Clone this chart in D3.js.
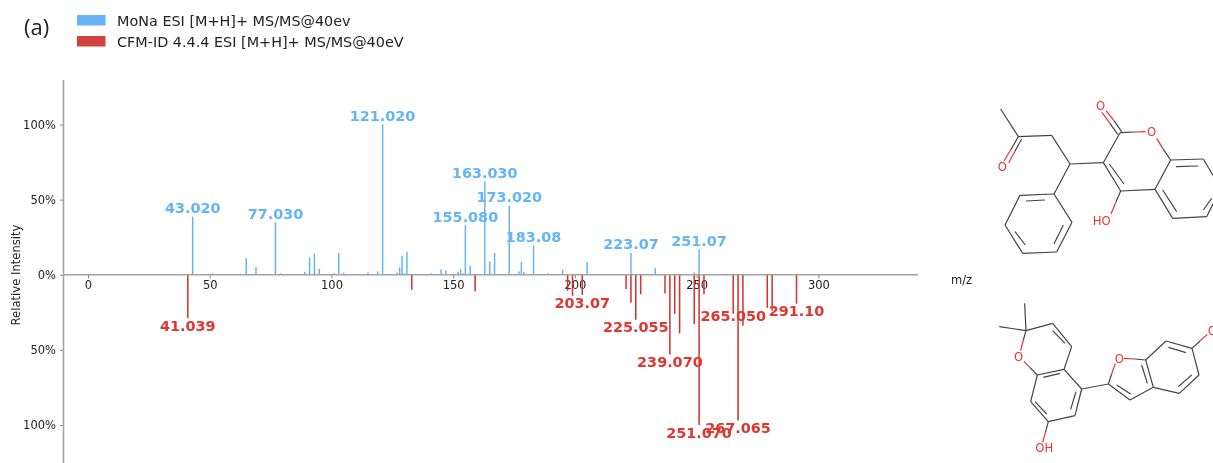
<!DOCTYPE html>
<html>
<head>
<meta charset="utf-8">
<script src="https://cdn.jsdelivr.net/npm/d3@7"></script>
<style>
  html, body { margin:0; padding:0; background:#fff; overflow:hidden; }
  text { font-family:"DejaVu Sans", sans-serif; }
  svg { filter:blur(0.35px); }
</style>
</head>
<body>
<div id="chart"></div>
<script>
// MoNa peaks
var monaMz  = [43,51,65,69,77,79,89,91,93,95,101,103,105,115,119,121,127,128,129,130,131,141,145,147,152,153,154,155,157,163,165,167,173,177,178,179,183,189,195,205,223,233,249,251];
var monaPct = [38.7,1,11,5,35,1,2,11.5,14,4,1,14.5,1.5,1.5,2.2,100,1.5,5,12.5,1,15.3,1,3.5,3,2,3.5,1,33,6,62,9,14.5,46,2.2,8.5,2,19.5,1,3.5,8.5,14.7,4.5,1.5,17];
var monaLabelMz   = [43,77,121,155,163,173,183,223,251];
var monaLabelText = ["43.020","77.030","121.020","155.080","163.030","173.020","183.08","223.07","251.07"];

// CFM-ID peaks
var cfmMz  = [41,133,159,197,199,203,221,223,225,227,237,239,241,243,249,251,253,265,267,269,279,281,291];
var cfmPct = [29,10,11,10.7,14,13.5,9.5,18.7,30,13,12.5,53,26,39,33,100,13,26,97,34,22,24,19.3];
var cfmLabelMz   = [41,203,225,239,251,265,267,291];
var cfmLabelText = ["41.039","203.07","225.055","239.070","251.070","265.050","267.065","291.10"];

var xTicks = [0,50,100,150,200,250,300];
var yTicks = [-100,-50,0,50,100];

var legendNames = ["MoNa ESI [M+H]+ MS/MS@40ev","CFM-ID 4.4.4 ESI [M+H]+ MS/MS@40eV"];
var BLUE = "#64b5f6", RED = "#d32f2f", LABEL_RED = "#e03531";

// molecule bonds, drawn in a 3x space: x1,y1,x2,y2,colour flag
var mol1Bonds = [
  [62,57,115,140],[115,140,92,180],[92,180,72,213,1],[125,147,104,185],[104,185,86,218,1],
  [115,140,215,136],[215,136,270,222],[270,222,222,312],[270,222,370,218],
  [222,312,120,316],[120,316,75,405],[75,405,128,490],[128,490,230,486],[230,486,276,397],[276,397,222,312],
  [195,330,138,333],[105,425,136,465],[222,462,250,405],
  [370,218,420,128],[413,133,390,100],[390,100,365,66,1],[425,125,402,92],[402,92,378,62,1],
  [420,128,465,126],[465,126,497,125,1],[530,145,550,178,1],[550,178,572,210],
  [370,218,422,303],[388,222,432,282],[422,303,525,298],[422,303,408,336],[408,336,393,372,1],
  [525,298,572,210],[572,210,670,207],[670,207,722,295],[722,295,680,380],[680,380,578,385],[578,385,525,298],
  [588,230,655,228],[548,300,590,365],[695,325,670,360]
];
var mol1Atoms = [["O",362,46],["O",67,230],["O",515,125],["HO",365,393]];

var mol2Bonds = [
  [134,40,138,122],[58,110,138,122],[138,122,218,100],[218,100,275,170],[218,122,255,160],[275,170,252,238],
  [138,122,130,150],[130,150,122,182,1],[132,215,150,233,1],[150,233,172,255],
  [172,255,252,238],[190,262,240,250],[252,238,305,297],[305,297,285,377],[288,305,272,358],
  [285,377,205,395],[205,395,152,335],[200,372,165,335],[152,335,172,255],
  [205,395,196,428],[196,428,188,458,1],[305,297,385,282],[385,282,395,252],[395,252,406,220,1],
  [432,205,465,207,1],[465,207,497,210],[385,282,450,330],[410,285,452,312],[450,330,520,292],
  [520,292,497,210],[502,280,485,225],[497,210,558,153],[558,153,636,175],[565,172,618,188],
  [636,175,657,255],[657,255,598,310],[635,255,595,290],[598,310,520,292],[636,175,660,153],[660,153,682,133,1]
];
var mol2Atoms = [["O",116,200],["O",418,205],["OH",193,473],["O",697,122]];

var width = 1213, height = 463;
var svg = d3.select("#chart").append("svg")
  .attr("width", width).attr("height", height)
  .style("display","block");

var x = d3.scaleLinear().domain([0,300]).range([88,818.4]);
var y = d3.scaleLinear().domain([-100,100]).range([425,124.5]);

// y axis
var yAxis = svg.append("g").attr("transform","translate(63.5,0)")
  .call(d3.axisLeft(y).tickValues(yTicks).tickSize(3.5).tickPadding(4)
    .tickFormat(function(d){ return Math.abs(d)+"%"; }));
yAxis.select(".domain").remove();
yAxis.selectAll("line").attr("stroke","#666").attr("stroke-width",0.8);
yAxis.selectAll("text").attr("font-size",11.5).attr("fill","#222").style("font-family","DejaVu Sans");
svg.append("line").attr("x1",63.5).attr("x2",63.5).attr("y1",80).attr("y2",463)
  .attr("stroke","#a3a3a3").attr("stroke-width",1.6);

// x axis ticks and labels sit under the peaks
var xAxis = svg.append("g").attr("transform","translate(0,"+y(0)+")")
  .call(d3.axisBottom(x).tickValues(xTicks).tickSize(3.5).tickPadding(2.5));
xAxis.select(".domain").remove();
xAxis.selectAll("line").attr("stroke","#666").attr("stroke-width",0.8);
xAxis.selectAll("text").attr("font-size",11.5).attr("fill","#222").style("font-family","DejaVu Sans");

// peaks
svg.append("g").selectAll("line").data(d3.zip(monaMz,monaPct)).enter().append("line")
  .attr("x1",function(d){ return x(d[0]); }).attr("x2",function(d){ return x(d[0]); })
  .attr("y1",y(0)).attr("y2",function(d){ return y(d[1]); })
  .attr("stroke",BLUE).attr("stroke-width",1.5);
svg.append("g").selectAll("line").data(d3.zip(cfmMz,cfmPct)).enter().append("line")
  .attr("x1",function(d){ return x(d[0]); }).attr("x2",function(d){ return x(d[0]); })
  .attr("y1",y(0)).attr("y2",function(d){ return y(-d[1]); })
  .attr("stroke",RED).attr("stroke-width",1.5);

svg.append("line").attr("x1",63).attr("x2",918).attr("y1",y(0)).attr("y2",y(0))
  .attr("stroke","#a3a3a3").attr("stroke-width",1.6);

// peak labels
function pctAt(mzs,pcts,mz){ return pcts[mzs.indexOf(mz)]; }
svg.append("g").selectAll("text").data(d3.zip(monaLabelMz,monaLabelText)).enter().append("text")
  .attr("x",function(d){ return x(d[0]); })
  .attr("y",function(d){ return y(pctAt(monaMz,monaPct,d[0]))-3.5; })
  .attr("text-anchor","middle").attr("font-size",14.4).attr("font-weight","bold")
  .attr("fill",BLUE).text(function(d){ return d[1]; });
svg.append("g").selectAll("text").data(d3.zip(cfmLabelMz,cfmLabelText)).enter().append("text")
  .attr("x",function(d){ return x(d[0]); })
  .attr("y",function(d){ return y(-pctAt(cfmMz,cfmPct,d[0])) + (d[0]==265 ? 7.5 : 12.5); }) // 265 sits tight on its peak
  .attr("text-anchor","middle").attr("font-size",14.4).attr("font-weight","bold")
  .attr("fill",LABEL_RED).text(function(d){ return d[1]; });

// axis names
svg.append("text").attr("transform","translate(20,275) rotate(-90)")
  .attr("text-anchor","middle").attr("font-size",11.6).attr("fill","#222").text("Relative Intensity");
svg.append("text").attr("x",951).attr("y",284).attr("font-size",11.5).attr("fill","#222").text("m/z");

// legend
var legend = svg.append("g").selectAll("g").data(legendNames).enter().append("g")
  .attr("transform",function(d,i){ return "translate(77,"+(15+i*21)+")"; });
legend.append("rect").attr("width",28.5).attr("height",10.5)
  .attr("fill",function(d,i){ return i==0 ? "#69b4f6" : "#d2423e"; });
legend.append("text").attr("x",40).attr("y",10.5).attr("font-size",14.4).attr("fill","#222")
  .text(function(d){ return d; });

svg.append("text").attr("x",24).attr("y",35).attr("font-size",22).attr("fill","#222")
  .style("font-family","Open Sans").text("(a)");

// molecules
function drawMol(bonds,atoms,tx,ty){
  var g = svg.append("g").attr("transform","translate("+tx+","+ty+") scale("+(1/3)+")");
  g.selectAll("line").data(bonds).enter().append("line")
    .attr("x1",function(d){ return d[0]; }).attr("y1",function(d){ return d[1]; })
    .attr("x2",function(d){ return d[2]; }).attr("y2",function(d){ return d[3]; })
    .attr("stroke",function(d){ return d[4] ? "#f03030" : "#444"; })
    .attr("stroke-width",3.6);
  g.selectAll("text").data(atoms).enter().append("text")
    .attr("x",function(d){ return d[1]; }).attr("y",function(d){ return d[2]; })
    .attr("dy","0.36em").attr("text-anchor","middle").attr("font-size",35)
    .attr("fill","#f03030").text(function(d){ return d[0]; });
}
drawMol(mol1Bonds,mol1Atoms,980,90);
drawMol(mol2Bonds,mol2Atoms,980,290);
</script>
</body>
</html>
